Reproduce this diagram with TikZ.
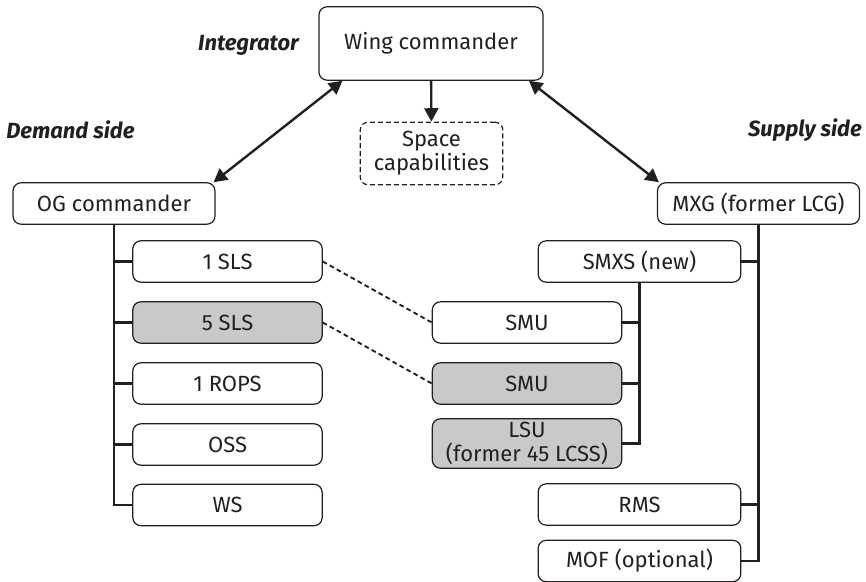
\documentclass[tikz,border=0pt]{standalone}
\usepackage{fontspec}
\setmainfont{Fira Sans}
\usepackage{tikz}
\usetikzlibrary{arrows.meta,shapes}
\definecolor{ink}{RGB}{35,31,32}
\definecolor{unitgray}{RGB}{200,201,203}
\tikzset{
  unit/.style={rectangle,draw=ink,text=ink,rounded corners=6pt,line width=0.9pt,align=center,
    inner sep=0pt,minimum width=142pt,minimum height=31pt,font=\fontsize{16.5}{18}\selectfont},
  wide/.style={minimum width=152pt},
  gray/.style={fill=unitgray},
  side/.style={text=ink,font=\fontsize{16.5}{18}\selectfont\bfseries\itshape,inner sep=0pt},
  link/.style={draw=ink,line width=1.8pt},
  dashlink/.style={draw=ink,line width=1.4pt,dash pattern=on 3.5pt off 2.5pt},
}
\begin{document}
\begin{tikzpicture}[x=0.75pt,y=-0.75pt,>={Triangle[length=10pt,width=10.5pt]}]
\useasboundingbox (0,0) rectangle (866,581);
% top
\node[unit,minimum width=168pt,minimum height=55pt] (wing) at (431,43.5) {Wing commander};
\node[unit,dash pattern=on 3.75pt off 2.25pt,minimum width=107pt,minimum height=47pt] (space) at (431.5,153.5) {Space\\capabilities};
\node[side,anchor=east] (integrator) at (299,45) {Integrator};
\node[side,anchor=west] (demand) at (6,130) {Demand side};
\node[side,anchor=east] (supply) at (862,130) {Supply side};
% the two sides
\node[unit,minimum width=151.5pt] (og) at (114,203.5) {OG commander};
\node[unit,minimum width=151.5pt] (mxg) at (758.5,203.5) {MXG (former LCG)};
% demand side units
\node[unit] (sls1) at (227.5,261.5) {1 SLS};
\node[unit,gray] (sls5) at (227.5,322.5) {5 SLS};
\node[unit] (rops) at (227.5,383.5) {1 ROPS};
\node[unit] (oss) at (227.5,444.5) {OSS};
\node[unit] (ws) at (227.5,505) {WS};
% supply side units
\node[unit,wide] (smxs) at (639.5,261.5) {SMXS (new)};
\node[unit] (smu1) at (527,322.5) {SMU};
\node[unit,gray] (smu2) at (527,383.5) {SMU};
\node[unit,gray,minimum height=37pt] (lsu) at (527,443.5) {LSU\\(former 45 LCSS)};
\node[unit,wide] (rms) at (639.5,504.5) {RMS};
\node[unit,wide] (mof) at (639.5,561) {MOF (optional)};
% arrows
\draw[link,->] (wing) -- (space);
\draw[link,<->] ([xshift=-1.5pt]og.north east) -- ([xshift=18pt]wing.south west);
\draw[link,<->] ([xshift=-11pt]wing.south east) -- ([xshift=1.5pt]mxg.north west);
% tree lines
\draw[link] (og.south) |- (ws.west);
\foreach \u in {sls1,sls5,rops,oss}
  \draw[link] (\u.west) -- (\u.west -| og.south);
\draw[link] (mxg.south) |- (mof.east);
\foreach \u in {smxs,rms}
  \draw[link] (\u.east) -- (\u.east -| mxg.south);
\draw[link] (smxs.south) |- (lsu.east);
\foreach \u in {smu1,smu2}
  \draw[link] (\u.east) -- (\u.east -| smxs.south);
% dashed links
\draw[dashlink] (sls1.east) -- (smu1.west);
\draw[dashlink] (sls5.east) -- (smu2.west);
\end{tikzpicture}
\end{document}
